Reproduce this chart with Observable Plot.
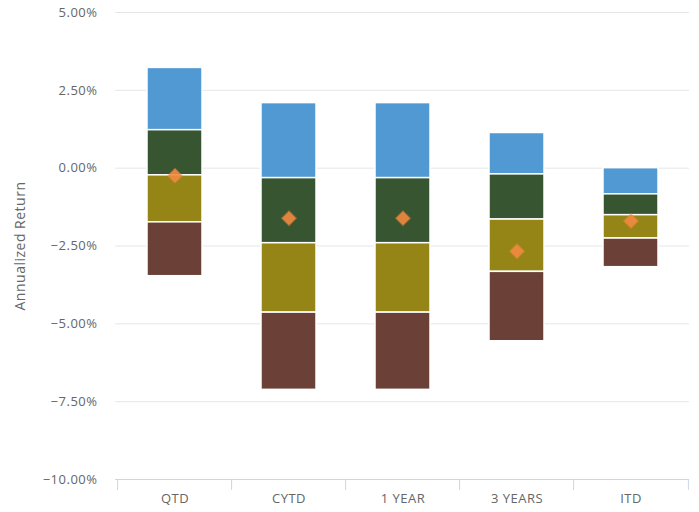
<!DOCTYPE html>
<html>
<head>
<meta charset="utf-8">
<script src="https://cdn.jsdelivr.net/npm/d3@7"></script>
<script src="https://cdn.jsdelivr.net/npm/@observablehq/plot@0.6"></script>
<style>
  html, body { margin: 0; padding: 0; background: #fff; }
  #chart svg { display: block; }
  #chart svg text { letter-spacing: 0.5px; }
</style>
</head>
<body>
<div id="chart"></div>
<script>
const categories = ["QTD", "CYTD", "1 YEAR", "3 YEARS", "ITD"];
// Quartile boundaries (percent)
const top5th   = [3.22, 2.09, 2.09, 1.13, 0.00];
const q25th    = [1.22, -0.32, -0.32, -0.20, -0.84];
const median   = [-0.23, -2.41, -2.41, -1.65, -1.51];
const q75th    = [-1.74, -4.64, -4.64, -3.33, -2.26];
const bottom95 = [-3.47, -7.12, -7.12, -5.56, -3.18];
const fundReturn = [-0.24, -1.61, -1.61, -2.67, -1.70];
const yTicks = [-10, -7.5, -5, -2.5, 0, 2.5, 5];

const segColors = ["#5199d3", "#365530", "#958516", "#6b4037"];
const bounds = [top5th, q25th, median, q75th, bottom95];
const segments = [];
for (let s = 0; s < 4; s++) {
  categories.forEach((c, i) => {
    segments.push({cat: c, y1: bounds[s][i], y2: bounds[s + 1][i], seg: s});
  });
}
const fund = categories.map((c, i) => ({cat: c, v: fundReturn[i]}));

const W = 699, H = 512;
const mL = 115, mR = 10, mT = 12, mB = 33;
const step = (W - mL - mR) / categories.length;
const fmt = d => d3.format(".2f")(d) + "%";

const chart = Plot.plot({
  width: W,
  height: H,
  marginLeft: mL,
  marginRight: mR,
  marginTop: mT,
  marginBottom: mB,
  style: {fontFamily: "'Open Sans', sans-serif", fontSize: "13px", color: "#666666", background: "#ffffff"},
  x: {domain: categories, paddingInner: 0.52, paddingOuter: 0.26, axis: null},
  y: {domain: [-10, 5], axis: null},
  color: {domain: [0, 1, 2, 3], range: segColors},
  marks: [
    Plot.ruleY(yTicks.filter(t => t > -10), {y: d => d, stroke: "#e6e6e6", strokeWidth: 1}),
    Plot.ruleY([-10], {y: d => d, stroke: "#ccd6eb", strokeWidth: 1}),
    Plot.ruleX(categories, {x: d => d, y1: -10, y2: -10, insetBottom: -11, dx: -step / 2, stroke: "#ccd6eb"}),
    Plot.ruleX([categories[categories.length - 1]], {x: d => d, y1: -10, y2: -10, insetBottom: -11, dx: step / 2, stroke: "#ccd6eb"}),
    Plot.axisY(yTicks, {tickSize: 0, tickPadding: 18, tickFormat: fmt, fill: "#666666", fontSize: 13, label: null}),
    Plot.text(["Annualized Return"], {frameAnchor: "left", textAnchor: "middle", dx: -95, rotate: -90, text: d => d, fill: "#666666", fontSize: 14}),
    Plot.axisX({tickSize: 0, tickPadding: 14, fill: "#666666", fontSize: 13, label: null}),
    Plot.barY(segments, {x: "cat", y1: "y1", y2: "y2", fill: "seg", stroke: "#ffffff", strokeWidth: 1.5}),
    Plot.dot(fund, {x: "cat", y: "v", symbol: "square", r: 5.4, rotate: 45, fill: "#f28a40", fillOpacity: 0.9, stroke: "#f28a40", strokeOpacity: 0.45, strokeWidth: 2})
  ]
});
document.getElementById("chart").appendChild(chart);
</script>
</body>
</html>
